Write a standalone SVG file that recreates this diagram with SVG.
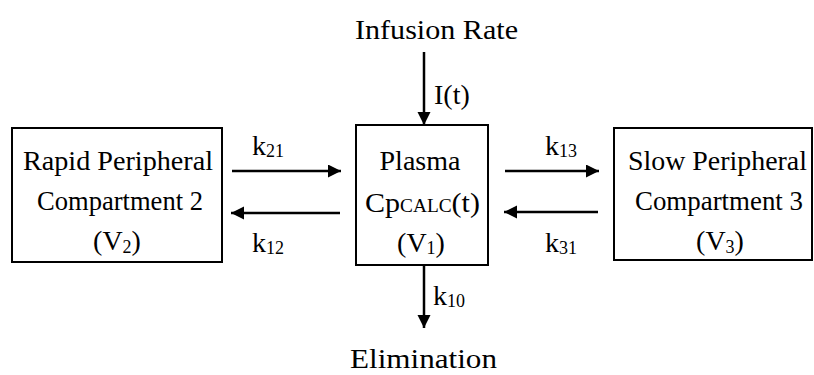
<svg xmlns="http://www.w3.org/2000/svg" width="814" height="375" viewBox="0 0 814 375" font-family="'Liberation Serif', 'DejaVu Serif', serif">
<defs>
<style>
text{font-family:'Liberation Serif', 'DejaVu Serif', serif;fill:#000;}
.t{font-size:28px;}
.c{text-anchor:middle;}
.s{font-size:18px;}
.box{fill:#fff;stroke:#000;stroke-width:2;}
.arr{stroke:#000;stroke-width:2.5;fill:none;marker-end:url(#ah);}
</style>
<marker id="ah" markerUnits="userSpaceOnUse" markerWidth="14" markerHeight="14" refX="13" refY="6.5" orient="auto">
<path d="M0,0 L13,6.5 L0,13 z" fill="#000"/>
</marker>
</defs>
<rect width="814" height="375" fill="#fff"/>
<g id="connectors">
<line class="arr" x1="424" y1="52" x2="424" y2="125"/>
<line class="arr" x1="232" y1="171" x2="341" y2="171"/>
<line class="arr" x1="340" y1="213" x2="231" y2="213"/>
<line class="arr" x1="505" y1="171" x2="599" y2="171"/>
<line class="arr" x1="598" y1="212" x2="504" y2="212"/>
<line class="arr" x1="424" y1="265" x2="424" y2="328"/>
<text class="t" x="434" y="104">I(t)</text>
<text class="t" x="252" y="155">k<tspan class="s" dy="2">21</tspan></text>
<text class="t" x="252" y="252">k<tspan class="s" dy="2">12</tspan></text>
<text class="t" x="545" y="155">k<tspan class="s" dy="2">13</tspan></text>
<text class="t" x="545" y="252">k<tspan class="s" dy="2">31</tspan></text>
<text class="t" x="433" y="305">k<tspan class="s" dy="2">10</tspan></text>
</g>
<g id="infusion">
<text class="t" x="355" y="39" textLength="163" lengthAdjust="spacingAndGlyphs">Infusion Rate</text>
</g>
<g id="elimination">
<text class="t" x="350" y="368" textLength="147" lengthAdjust="spacingAndGlyphs">Elimination</text>
</g>
<g id="rapid">
<rect class="box" x="12" y="128" width="210" height="134"/>
<text class="t" x="23" y="170" textLength="190" lengthAdjust="spacingAndGlyphs">Rapid Peripheral</text>
<text class="t" x="37" y="210" textLength="166" lengthAdjust="spacingAndGlyphs">Compartment 2</text>
<text class="t c" x="117" y="250">(V<tspan class="s" dy="3" font-size="22">2</tspan><tspan dy="-3">)</tspan></text>
</g>
<g id="plasma">
<rect class="box" x="356" y="125" width="132" height="140"/>
<text class="t c" x="420" y="170">Plasma</text>
<text class="t" x="365" y="212" textLength="115" lengthAdjust="spacingAndGlyphs">Cp<tspan class="s">CALC</tspan>(t)</text>
<text class="t c" x="421" y="252">(V<tspan class="s" dy="2">1</tspan><tspan dy="-2">)</tspan></text>
</g>
<g id="slow">
<rect class="box" x="614" y="128" width="198" height="132"/>
<text class="t" x="628" y="170" textLength="179" lengthAdjust="spacingAndGlyphs">Slow Peripheral</text>
<text class="t" x="635" y="210" textLength="168" lengthAdjust="spacingAndGlyphs">Compartment 3</text>
<text class="t c" x="720" y="250">(V<tspan class="s" dy="3" font-size="22">3</tspan><tspan dy="-3">)</tspan></text>
</g>
</svg>
